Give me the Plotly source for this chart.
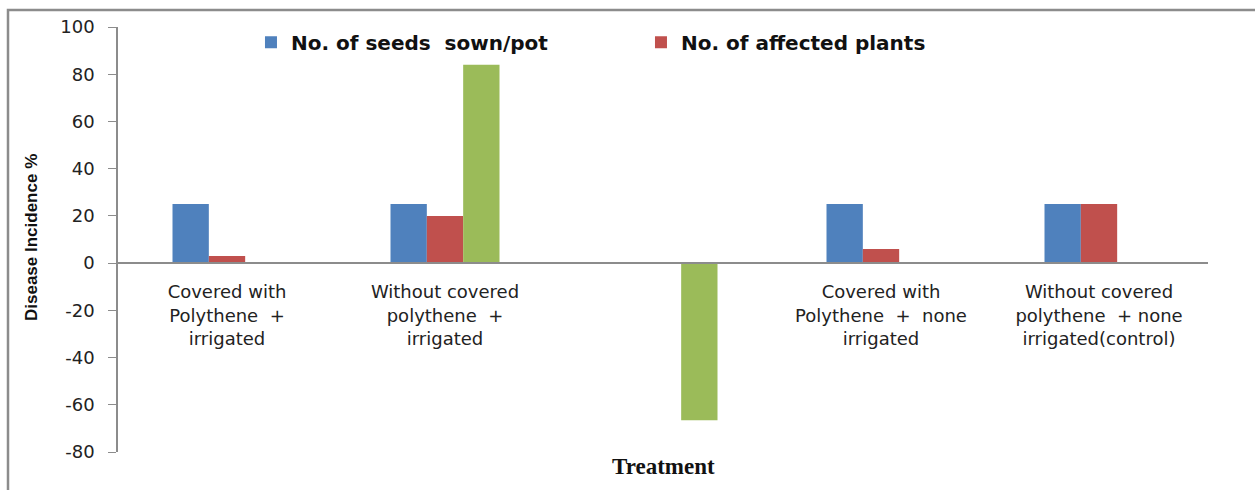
import plotly.graph_objects as go

categories = [
    "Covered with<br>Polythene  +<br>irrigated",
    "Without covered<br>polythene  +<br>irrigated",
    " ",
    "Covered with<br>Polythene  +  none<br>irrigated",
    "Without covered<br>polythene  + none<br>irrigated(control)",
]
seeds_sown = [25, 25, None, 25, 25]
affected_plants = [3, 20, None, 6, 25]
disease_incidence = [None, 84, -66.5, None, None]

series_names = ["No. of seeds  sown/pot", "No. of affected plants", "Disease incidence %"]
colors = ["#4F81BD", "#C0504D", "#9BBB59"]

y_ticks = [-80, -60, -40, -20, 0, 20, 40, 60, 80, 100]
y_tick_labels = ["-80", "-60", "-40", "-20", "0", "20", "40", "60", "80", "100"]

fig = go.Figure()
for name, vals, col, show in zip(series_names, [seeds_sown, affected_plants, disease_incidence], colors, [True, True, False]):
    fig.add_trace(go.Bar(x=categories, y=vals, name=name, marker=dict(color=col, line=dict(width=0)),
                         showlegend=show))

ymin, ymax = y_ticks[0], y_ticks[-1]

fig.update_layout(
    width=1255, height=490,
    margin=dict(l=118, r=47, t=27, b=38),
    paper_bgcolor="white", plot_bgcolor="white",
    barmode="group", bargap=0.5, bargroupgap=0,
    font=dict(family="DejaVu Sans", size=16, color="#222"),
    legend=dict(orientation="h", x=0.122, y=1.01, xanchor="left", yanchor="top",
                font=dict(family="DejaVu Sans", size=20, color="#111", weight="bold"),
                entrywidth=345, entrywidthmode="pixels", bgcolor="rgba(0,0,0,0)"),
    xaxis=dict(type="category", categoryorder="array", categoryarray=categories,
               range=[-0.5, 4.5], anchor="free", position=(0 - ymin) / (ymax - ymin),
               showline=True, linecolor="#8c8c8c", linewidth=1.5, ticks="",
               tickfont=dict(family="DejaVu Sans", size=18, color="#222"),
               ticklabelstandoff=13, showgrid=False, zeroline=False),
    yaxis=dict(range=[ymin, ymax], tickvals=y_ticks, ticktext=y_tick_labels, showline=True,
               linecolor="#8c8c8c", linewidth=1.5, ticks="outside", ticklen=8, tickcolor="#8c8c8c",
               tickfont=dict(family="DejaVu Sans", size=18, color="#222"),
               ticklabelstandoff=10, showgrid=False, zeroline=False),
)

fig.add_annotation(text="Disease Incidence %", textangle=-90, xref="paper", yref="paper",
                   x=(31 - 118) / 1090, y=(452 - 238) / 425, xanchor="center", yanchor="middle",
                   showarrow=False,
                   font=dict(family="Liberation Sans Narrow, Liberation Sans", size=17, color="#111", weight="bold"))
fig.add_annotation(text="Treatment", xref="paper", yref="paper",
                   x=(663 - 118) / 1090, y=(452 - 466) / 425, xanchor="center", yanchor="middle",
                   showarrow=False,
                   font=dict(family="Liberation Serif", size=23, color="#111", weight="bold"))

fig.add_shape(type="rect", xref="paper", yref="paper",
              x0=(8 - 118) / 1090, x1=(1262 - 118) / 1090,
              y0=(452 - 500) / 425, y1=(452 - 10) / 425,
              line=dict(color="#8c8c8c", width=2.5), layer="below")

fig.write_html("out.html")
